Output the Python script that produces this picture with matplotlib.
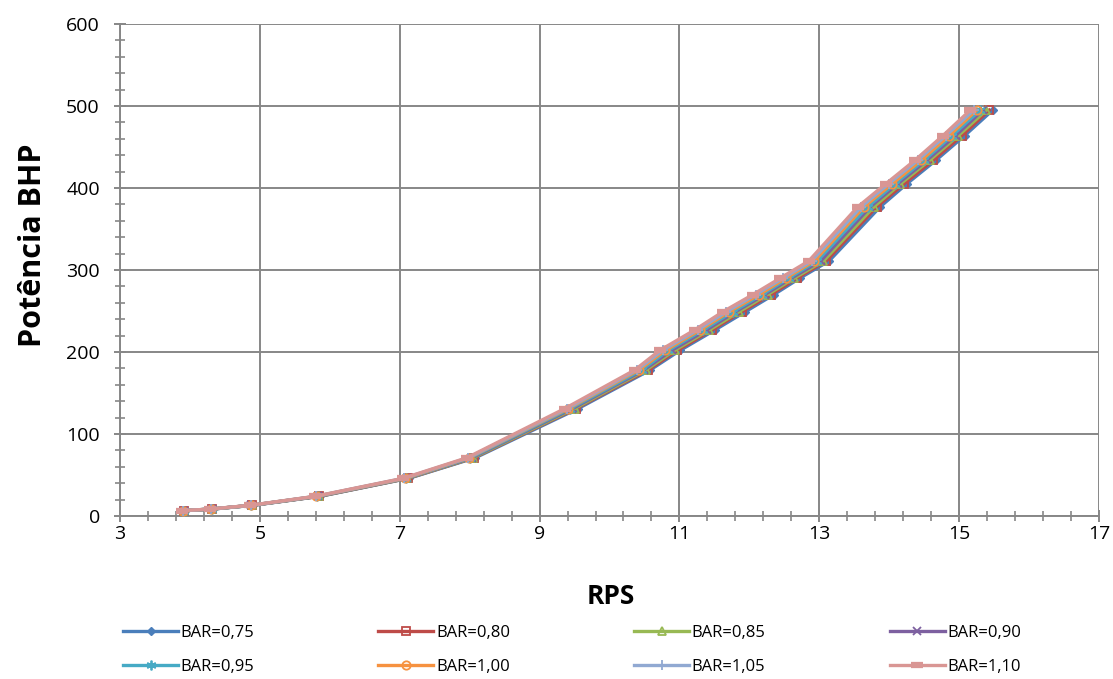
import matplotlib
matplotlib.use("Agg")
import matplotlib.pyplot as plt
from matplotlib.ticker import FixedLocator

# Shaft power (BHP) at each operating point, shared by all blade-area ratios
bhp = [6.5, 8.5, 13, 24, 46, 71, 131, 178, 202, 227, 249, 270, 290, 311,
       377, 405, 434, 464, 495]

# Propeller speed (RPS) needed for each power level, per blade-area ratio
rps_075 = [3.93, 4.33, 4.90, 5.86, 7.13, 8.08, 9.55, 10.58, 11.01, 11.51,
           11.94, 12.35, 12.72, 13.14, 13.87, 14.25, 14.67, 15.08, 15.48]
rps_080 = [3.92, 4.32, 4.89, 5.85, 7.12, 8.06, 9.52, 10.55, 10.97, 11.47,
           11.89, 12.31, 12.68, 13.10, 13.82, 14.21, 14.63, 15.04, 15.43]
rps_085 = [3.92, 4.32, 4.89, 5.84, 7.11, 8.05, 9.50, 10.52, 10.93, 11.43,
           11.85, 12.26, 12.64, 13.06, 13.78, 14.16, 14.58, 14.99, 15.39]
rps_090 = [3.91, 4.31, 4.88, 5.83, 7.10, 8.03, 9.47, 10.49, 10.89, 11.39,
           11.80, 12.22, 12.60, 13.02, 13.73, 14.12, 14.54, 14.95, 15.34]
rps_095 = [3.91, 4.31, 4.88, 5.82, 7.09, 8.01, 9.44, 10.46, 10.84, 11.34,
           11.76, 12.18, 12.56, 12.97, 13.69, 14.08, 14.50, 14.90, 15.30]
rps_100 = [3.90, 4.30, 4.87, 5.81, 7.08, 7.99, 9.41, 10.42, 10.80, 11.30,
           11.71, 12.14, 12.52, 12.93, 13.64, 14.04, 14.46, 14.86, 15.25]
rps_105 = [3.90, 4.30, 4.87, 5.80, 7.06, 7.98, 9.39, 10.39, 10.76, 11.26,
           11.67, 12.09, 12.48, 12.89, 13.60, 13.99, 14.41, 14.81, 15.21]
rps_110 = [3.89, 4.29, 4.86, 5.79, 7.05, 7.96, 9.36, 10.36, 10.72, 11.22,
           11.62, 12.05, 12.44, 12.85, 13.55, 13.95, 14.37, 14.77, 15.16]

labels = ["BAR=0,75", "BAR=0,80", "BAR=0,85", "BAR=0,90",
          "BAR=0,95", "BAR=1,00", "BAR=1,05", "BAR=1,10"]
series = [rps_075, rps_080, rps_085, rps_090, rps_095, rps_100, rps_105, rps_110]

x_ticks = [3, 5, 7, 9, 11, 13, 15, 17]
y_ticks = [0, 100, 200, 300, 400, 500, 600]

colors = ["#4A7EBB", "#BE4B48", "#98B954", "#7D60A0",
          "#46AAC5", "#F69240", "#91A9D2", "#D99694"]
styles = [
    dict(marker="D", ms=4.5, mfc="#4A7EBB", mew=1.0),
    dict(marker="s", ms=6, mfc="none", mew=1.3),
    dict(marker="^", ms=6, mfc="none", mew=1.3),
    dict(marker="x", ms=5.5, mew=1.3),
    dict(marker=(6, 2, 0), ms=7, mew=1.3),
    dict(marker="o", ms=6, mfc="none", mew=1.3),
    dict(marker="+", ms=7, mew=1.3),
    dict(marker="_", ms=8, mew=4.5),
]

grid_col = "#878787"
plt.rcParams["font.family"] = ["Open Sans", "DejaVu Sans"]

fig = plt.figure(figsize=(11.13, 6.79), dpi=100)
ax = fig.add_axes([120 / 1113, 163 / 679, 979 / 1113, 492 / 679])

handles = []
for rps, lab, col, st in zip(series, labels, colors, styles):
    h, = ax.plot(rps, bhp, color=col, lw=2.4, mec=col, label=lab,
                 solid_joinstyle="round", zorder=3, clip_on=False, **st)
    handles.append(h)

ax.set_xlim(x_ticks[0], x_ticks[-1])
ax.set_ylim(y_ticks[0], y_ticks[-1])
ax.xaxis.set_major_locator(FixedLocator(x_ticks))
x_step = (x_ticks[1] - x_ticks[0]) / 5
ax.xaxis.set_minor_locator(FixedLocator(
    [x_ticks[0] + i * x_step for i in range(5 * (len(x_ticks) - 1) + 1)]))
ax.yaxis.set_major_locator(FixedLocator(y_ticks))
y_step = (y_ticks[1] - y_ticks[0]) / 5
ax.yaxis.set_minor_locator(FixedLocator(
    [y_ticks[0] + i * y_step for i in range(5 * (len(y_ticks) - 1) + 1)]))

ax.grid(True, which="major", color=grid_col, lw=1.4, zorder=0)
for side in ("top", "right"):
    ax.spines[side].set_visible(False)
for side in ("left", "bottom"):
    ax.spines[side].set_color(grid_col)
    ax.spines[side].set_linewidth(1.4)

ax.tick_params(which="major", direction="inout", length=9, width=1.4,
               color=grid_col, labelsize=14, labelcolor="#000000")
ax.tick_params(which="minor", direction="inout", length=7, width=1.2,
               color=grid_col)
ax.tick_params(axis="x", which="major", pad=2)
ax.tick_params(axis="y", which="major", pad=10)

fig.text(611 / 1113, 1 - 596 / 679, "RPS", ha="center", va="center",
         fontsize=19, fontweight="bold")
fig.text(33 / 1113, 1 - 245 / 679, "Potência BHP", ha="center", va="center",
         rotation=90, fontsize=22, fontweight="bold")

# two legend rows filled left to right
order = [0, 4, 1, 5, 2, 6, 3, 7]
fig.legend(handles=[handles[i] for i in order],
           labels=[labels[i] for i in order], loc="center left", ncol=4,
           bbox_to_anchor=(123 / 1113, 1 - 650 / 679),
           frameon=False, fontsize=12, handlelength=3.3,
           handletextpad=0.15, columnspacing=7.45, labelspacing=1.1,
           borderaxespad=0, borderpad=0)

fig.savefig("out.png", dpi=100)
